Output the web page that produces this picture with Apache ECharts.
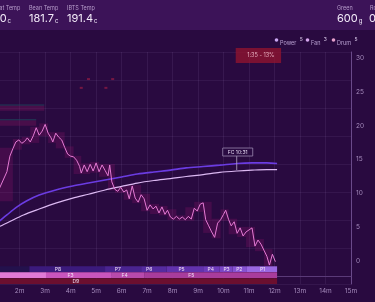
<!DOCTYPE html>
<html><head><meta charset="utf-8">
<script src="https://cdn.jsdelivr.net/npm/echarts@6/dist/echarts.min.js"></script>
<style>html,body{margin:0;padding:0;background:#290a40;overflow:hidden;}#c{width:388px;height:302px;margin-left:-13px;}</style>
</head><body><div id="c"></div>
<script>
// ---- data ----
const rorSeconds = [60,90,97,104,111,118,125,132,138,145,152,159,166,173,180,187,194,198,205,212,219,226,233,240,247,254,261,265,272,279,286,293,300,307,314,321,328,332,337,344,351,358,365,372,378,385,392,399,406,413,420,427,434,441,448,455,462,468,475,482,489,496,503,510,517,524,531,538,545,552,558,565,572,579,586,593,600,605,612,618,625,632,639,646,653,660,667,674,681,688,695,702,708,715,722];
const rorValues = [9.0,13.2,15.5,16.6,17.6,17.9,17.4,17.7,18.2,17.6,18.5,19.7,18.6,19.2,20.2,18.9,18.2,17.6,18.9,18.3,17.9,16.8,15.8,15.5,15.4,14.9,14.0,13.0,14.2,13.2,14.3,13.3,14.5,13.2,14.2,13.4,12.6,14.2,11.7,10.6,10.3,10.9,10.2,10.5,9.2,11.1,9.3,8.7,9.8,9.2,7.5,8.3,7.7,8.1,7.1,8.0,6.9,7.5,6.5,6.2,6.6,6.2,6.5,6.1,6.6,6.2,7.8,7.4,8.4,8.6,6.1,5.2,4.3,3.5,5.6,6.1,6.9,7.5,6.1,5.2,5.8,4.1,4.9,3.7,4.3,4.6,4.9,2.2,3.1,2.5,1.6,0.7,-0.6,1.0,-0.1];
const beanSeconds = [60,90,129,166,205,245,282,321,360,397,436,475,512,552,591,632,667,702,726];
const beanTemps = [84,94.6,109,119.6,130,139,146,153.6,160,166,170.5,174,177.7,181,185,187.5,189,190,190];
const ibtsSeconds = [60,90,113,136,166,205,245,282,321,360,397,436,475,512,552,591,632,667,702,726];
const ibtsTemps = [90,109,123,134,144.6,153.6,160.7,166,171.4,176.8,182,185.7,189,193,195.5,198,201,202,202,201];
const powerNames = ['P9','P8','P7','P6','P5','P4','P3','P2','P1'];
const powerStarts = [0,143,321,406,466,552,591,621,655];
const powerEnds = [143,321,406,466,552,591,621,655,726];
const powerLabelAt = [null,210,351,425,501,570,607,637,692];
const fanNames = ['F2','F3','F4','F5'];
const fanStarts = [0,182,337,413];
const fanEnds = [182,337,413,726];
const fanLabelAt = [null,240,367,524];
const drumNames = ['D9'];
const drumStarts = [0];
const drumEnds = [726];
const drumLabelAt = [252];
const fcSeconds = 631, fcLabel = 'FC 10:31';
const dropSeconds = 726, devLabel = '1:35 - 13%';
const earlyBarStarts = [60, 60];
const earlyBarEnds = [178, 159];
const earlyBarLow = [22.2, 20.0];
const earlyBarHigh = [23.0, 20.8];
const markSeconds = [265, 282, 323, 339];
const markRoR = [25.6, 26.9, 25.6, 26.9];
const header = [
  {label:'Heat Temp', value:'200', unit:'c'},
  {label:'Bean Temp', value:'181.7', unit:'c'},
  {label:'IBTS Temp', value:'191.4', unit:'c'}
];
const weights = [{label:'Green', value:'600', unit:'g'},{label:'Roast', value:'0', unit:'g'}];
const legendItems = [{name:'Power', v:'5'},{name:'Fan', v:'3'},{name:'Drum', v:'5'}];

// ---- styles ----
const powerColors = ['#23114c','#3b1a7c','#4a2490','#552ba0','#6232ad','#6e3bba','#7a46c6','#8652d2','#9a68e2'];
const fanColors = ['#e07ad6','#c955bd','#b84aac','#a83c9c'];
const drumColors = ['#6b0f2f'];
const OX = 13; // page offset of the canvas

const chart = echarts.init(document.getElementById('c'));

const env = [];
for (let i = 0; i + 3 < rorSeconds.length; i += 3) {
  const w = rorValues.slice(i, i + 4);
  env.push([rorSeconds[i], rorSeconds[i + 3], Math.min(...w), Math.max(...w)]);
}
const lanes = [];
function addLane(names, starts, ends, labelAt, colors, lane) {
  names.forEach((n, i) => lanes.push({value:[starts[i], ends[i], lane, labelAt[i] == null ? -1 : labelAt[i]], name:n, itemStyle:{color:colors[i]}}));
}
addLane(powerNames, powerStarts, powerEnds, powerLabelAt, powerColors, 2);
addLane(fanNames, fanStarts, fanEnds, fanLabelAt, fanColors, 1);
addLane(drumNames, drumStarts, drumEnds, drumLabelAt, drumColors, 0);

const beanAt = (t) => { for (let i=1;i<beanSeconds.length;i++){ if (t<=beanSeconds[i]){ const f=(t-beanSeconds[i-1])/(beanSeconds[i]-beanSeconds[i-1]); return beanTemps[i-1]+f*(beanTemps[i]-beanTemps[i-1]); } } return beanTemps[beanTemps.length-1]; };

const graphics = [
  {type:'rect', shape:{x:0,y:0,width:388,height:30}, style:{fill:'#3c1358'}, z:0}
];
const hx = [-13, 29, 67];
header.forEach((h, i) => {
  graphics.push({type:'text', x:OX + hx[i] + (i===0?5:0), y:5, style:{text:h.label, fill:'#b79ccb', font:'5.5px Inter'}});
  graphics.push({type:'text', x:OX + hx[i] + (i===0?-1:0), y:13, style:{text:'{v|' + h.value + '}{u|' + h.unit + '}', rich:{v:{fill:'#f4ecfa', font:'11px Inter', verticalAlign:'bottom'}, u:{fill:'#f4ecfa', font:'6px Inter', verticalAlign:'bottom', padding:[0,0,0,1]}}}});
});
const wx = [337, 369];
weights.forEach((w, i) => {
  graphics.push({type:'text', x:OX + wx[i] + (i===1?1:0), y:5, style:{text:w.label, fill:'#b79ccb', font:'5.5px Inter'}});
  graphics.push({type:'text', x:OX + wx[i], y:13, style:{text:'{v|' + w.value + '}{u|' + w.unit + '}', rich:{v:{fill:'#f4ecfa', font:'11px Inter', verticalAlign:'bottom'}, u:{fill:'#f4ecfa', font:'6px Inter', verticalAlign:'bottom', padding:[0,0,0,1]}}}});
});
const lx = [275, 306, 332];
const dotColors = ['#c9a6f2','#d6a6ee','#e6a0cc'];
legendItems.forEach((l, i) => {
  graphics.push({type:'circle', shape:{cx:OX + lx[i]+1.5, cy:40, r:1.8}, style:{fill:dotColors[i]}});
  graphics.push({type:'text', x:OX + lx[i]+5, y:37, style:{text:'{n|' + l.name + '} {s|' + l.v + '}', rich:{n:{fill:'#b8a0d0', font:'5.5px Inter'}, s:{fill:'#d8c8e8', font:'5px Inter', verticalAlign:'top', padding:[0,0,3,0]}}}});
});

chart.setOption({
  backgroundColor:'#290a40',
  animation:false,
  graphic: graphics,
  grid:{left:0, right:24, top:52, bottom:18},
  xAxis:{type:'value', min:60, max:900, interval:60,
    axisLine:{show:true, lineStyle:{color:'#5a3a78'}}, axisTick:{show:false},
    axisLabel:{color:'#a58bbc', fontSize:6.5, fontFamily:'Inter', margin:4, formatter:v => (v/60) + 'm'},
    splitLine:{show:true, lineStyle:{color:'rgba(200,170,230,0.09)', width:1}}},
  yAxis:[
    {type:'value', min:-14.3, max:400, splitNumber:8, axisLabel:{show:false}, axisLine:{show:false}, axisTick:{show:false},
     splitLine:{show:true, lineStyle:{color:'rgba(200,170,230,0.08)'}}},
    {type:'value', position:'right', min:-3.4, max:30.9, splitNumber:7,
     axisLine:{show:true, lineStyle:{color:'#6a4a8a'}}, axisTick:{show:false}, splitLine:{show:false},
     axisLabel:{color:'#a58bbc', fontSize:6.5, fontFamily:'Inter', margin:5, showMinLabel:false, showMaxLabel:false}},
    {type:'value', min:0, max:232/6, show:false}
  ],
  series:[
    {type:'custom', name:'rorEnvelope', yAxisIndex:1, clip:true, z:1, data:env, encode:{x:[0,1], y:[2,3]},
     renderItem:(params, api) => {
       const a = api.coord([api.value(0), api.value(3)]);
       const b = api.coord([api.value(1), api.value(2)]);
       return {type:'rect', shape:{x:a[0], y:a[1]-1, width:b[0]-a[0], height:Math.max(b[1]-a[1],2)+2}, style:{fill:'rgba(165,25,115,0.22)'}};
     }},
    {type:'custom', name:'earlyBars', yAxisIndex:1, clip:true, z:1,
     data:earlyBarStarts.map((s,i)=>[s, earlyBarEnds[i], earlyBarLow[i], earlyBarHigh[i]]), encode:{x:[0,1], y:[2,3]},
     renderItem:(params, api) => {
       const a = api.coord([api.value(0), api.value(3)]);
       const b = api.coord([api.value(1), api.value(2)]);
       return {type:'group', children:[
         {type:'rect', shape:{x:a[0], y:a[1], width:b[0]-a[0], height:b[1]-a[1]}, style:{fill:'rgba(120,20,90,0.4)'}},
         {type:'rect', shape:{x:a[0], y:a[1]-1, width:b[0]-a[0], height:1}, style:{fill:'rgba(29,74,94,0.8)'}}
       ]};
     }},
    {type:'scatter', name:'marks', yAxisIndex:1, z:2, data:markSeconds.map((t,i)=>[t, markRoR[i]]),
     symbol:'rect', symbolSize:[3,2], itemStyle:{color:'#8a1a44'}},
    {type:'line', name:'IBTS Temp', yAxisIndex:0, data:ibtsSeconds.map((t,i)=>[t, ibtsTemps[i]]), smooth:0.3, showSymbol:false,
     lineStyle:{color:'#6b3ce2', width:1.6}, z:3},
    {type:'line', name:'Bean Temp', yAxisIndex:0, data:beanSeconds.map((t,i)=>[t, beanTemps[i]]), smooth:0.3, showSymbol:false,
     lineStyle:{color:'#dcb9f2', width:1.2}, z:3},
    {type:'line', name:'RoR', yAxisIndex:1, data:rorSeconds.map((t,i)=>[t, rorValues[i]]), showSymbol:false,
     lineStyle:{color:'#e47ad4', width:1}, z:4},
    {type:'custom', name:'phases', yAxisIndex:2, clip:true, z:5, data:lanes, encode:{x:[0,1], y:2},
     renderItem:(params, api) => {
       const a = api.coord([api.value(0), api.value(2)+0.95]);
       const b = api.coord([api.value(1), api.value(2)]);
       const children = [{type:'rect', shape:{x:a[0], y:a[1], width:b[0]-a[0], height:b[1]-a[1]}, style:api.style()}];
       const la = api.value(3);
       if (la >= 0) {
         const lp = api.coord([la, api.value(2)]);
         children.push({type:'text', style:{text:lanes[params.dataIndex].name, x:lp[0], y:(a[1]+b[1])/2, align:'center', verticalAlign:'middle', fill:'#f0e0f4', font:'5px Inter'}});
       }
       return {type:'group', children};
     }},
    {type:'custom', name:'devBox', yAxisIndex:1, z:6, data:[[fcSeconds, dropSeconds]], encode:{x:[0,1]},
     renderItem:(params, api) => {
       const a = api.coord([api.value(0), 30]);
       const b = api.coord([api.value(1), 30]);
       const top = params.coordSys.y - 4;
       return {type:'group', children:[
         {type:'rect', shape:{x:a[0]-1, y:top, width:b[0]-a[0]+5, height:15}, style:{fill:'rgba(150,20,45,0.75)'}},
         {type:'text', style:{text:devLabel, x:(a[0]+b[0])/2+4, y:top+7.5, align:'center', verticalAlign:'middle', fill:'#e8b0c0', font:'5.5px Inter'}}
       ]};
     }},
    {type:'custom', name:'fc', yAxisIndex:0, z:7, data:[[fcSeconds, beanAt(fcSeconds)]], encode:{x:0, y:1},
     renderItem:(params, api) => {
       const p = api.coord([api.value(0), api.value(1)]);
       return {type:'group', children:[
         {type:'line', shape:{x1:p[0], y1:p[1]-1, x2:p[0], y2:p[1]-15}, style:{stroke:'#b8a8c8', lineWidth:0.8}},
         {type:'rect', shape:{x:p[0]-14, y:p[1]-23, width:30, height:8}, style:{fill:'#2a0b42', stroke:'#9a88b0', lineWidth:0.8}},
         {type:'text', style:{text:fcLabel, x:p[0]+1, y:p[1]-19, align:'center', verticalAlign:'middle', fill:'#e4d6f0', font:'5px Inter'}}
       ]};
     }}
  ]
});
</script></body></html>
